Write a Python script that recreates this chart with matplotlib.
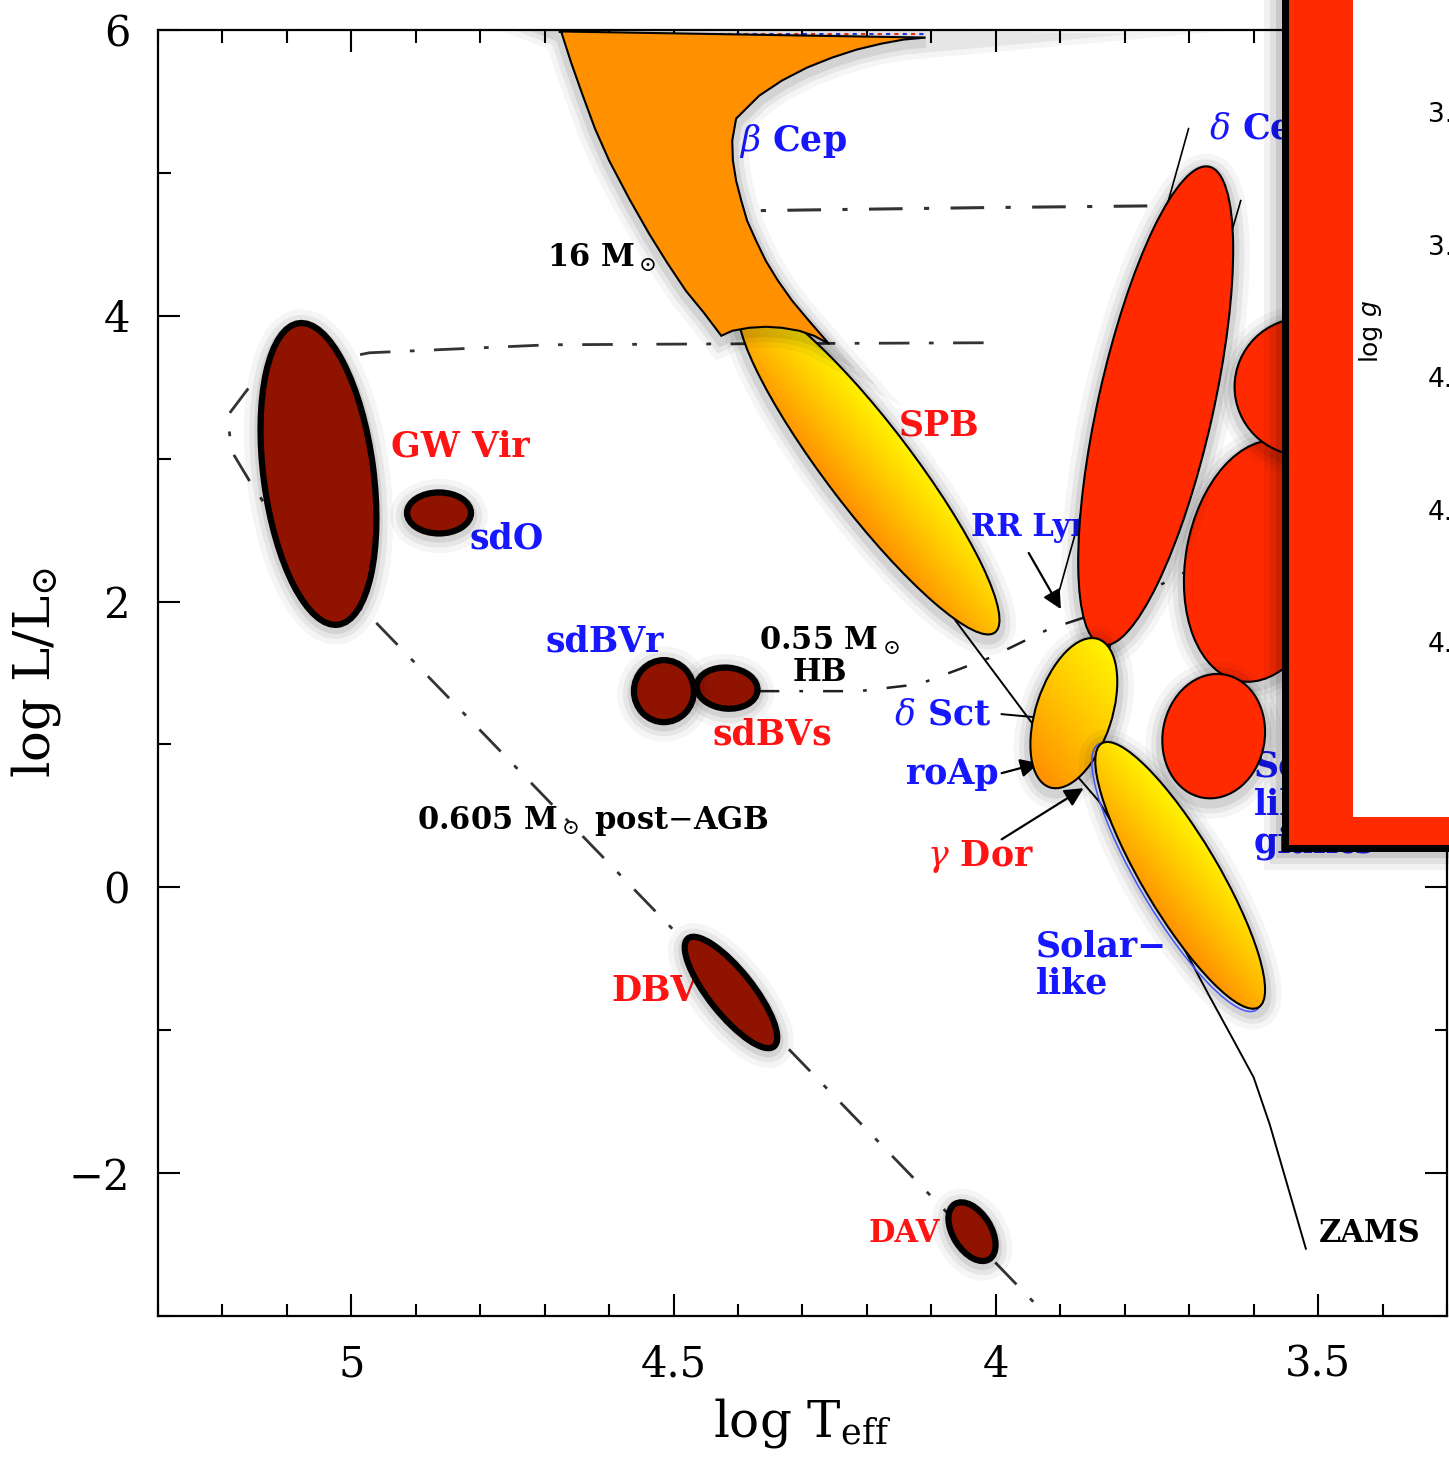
import numpy as np
import matplotlib
matplotlib.use('Agg')
import matplotlib.pyplot as plt
from matplotlib.patches import Ellipse, Polygon, Rectangle
from matplotlib.transforms import ScaledTranslation, offset_copy
from matplotlib.colors import LinearSegmentedColormap
from matplotlib.ticker import MultipleLocator, FuncFormatter

plt.rcParams['font.family'] = ['DejaVu Serif']
plt.rcParams['mathtext.fontset'] = 'dejavuserif'

# ---- values: (log Teff, log L/Lsun) ----
zams_logt = [4.616, 4.492, 4.390, 4.274, 4.150, 4.062, 3.938, 3.840, 3.747, 3.670, 3.630, 3.600, 3.575, 3.519]
zams_logl = [5.997, 4.806, 3.895, 3.194, 2.494, 1.863, 1.114, 0.602, -0.098, -0.750, -1.080, -1.330, -1.660, -2.529]

agb_logt = [4.019, 4.398, 4.693, 4.972, 5.081, 5.158, 5.192, 5.186, 5.158, 5.081, 4.964, 3.927]
agb_logl = [3.811, 3.804, 3.797, 3.741, 3.643, 3.503, 3.300, 3.054, 2.844, 2.319, 1.863, -2.970]

m16_logt = [4.45, 4.367, 4.019, 3.716]
m16_logl = [4.73, 4.736, 4.757, 4.771]

hb_logt = [4.367, 4.212, 4.119, 4.011, 3.918, 3.809, 3.709]
hb_logl = [1.373, 1.373, 1.422, 1.604, 1.807, 1.968, 2.200]

strip_blue_logt = [3.701, 3.906]
strip_blue_logl = [5.310, 2.004]
strip_red_logt = [3.620, 3.825]
strip_red_logl = [4.806, 1.653]

top_track_logt = [4.675, 4.110]
top_track_logl = [5.975, 5.975]

# beta Cep region outline (top edge, right edge, bottom edge, left edge)
bcep_logt = [4.678, 4.109, 4.143, 4.177, 4.216, 4.254, 4.293, 4.332, 4.367, 4.403, 4.409, 4.408,
             4.403, 4.395, 4.386, 4.372, 4.357, 4.338, 4.316, 4.290, 4.259,
             4.282, 4.305, 4.332, 4.357, 4.383, 4.409, 4.426,
             4.453, 4.481, 4.510, 4.538, 4.569, 4.600, 4.622, 4.642, 4.659, 4.674]
bcep_logl = [5.990, 5.947, 5.933, 5.905, 5.863, 5.807, 5.737, 5.646, 5.541, 5.380, 5.226, 5.086,
             4.946, 4.806, 4.666, 4.525, 4.385, 4.245, 4.105, 3.965, 3.804,
             3.860, 3.895, 3.916, 3.923, 3.916, 3.895, 3.860,
             4.021, 4.175, 4.371, 4.574, 4.820, 5.086, 5.310, 5.555, 5.772, 5.983]

# compact pulsators (dark red): GW Vir, sdO, sdBVs, sdBVr, DBV, DAV
dark_logt = [5.051, 4.864, 4.417, 4.515, 4.411, 4.037]
dark_logl = [2.893, 2.620, 1.394, 1.373, -0.736, -2.410]
# red region (red giants / Cepheids)
red_logt = [3.589, 3.521, 3.662, 3.752]
red_logl = [2.284, 3.503, 1.058, 3.370]
# SPB, delta Sct, solar-like (yellow)
yel_logt = [4.197, 3.879, 3.714]
yel_logl = [2.942, 1.219, 0.084]

label_text = [r'$\beta$ Cep', r'$\delta$ Cep', r'16 M$_\odot$', 'GW Vir', 'sdO', 'SPB', 'RR Lyr',
              'sdBVr', r'0.55 M$_\odot$', 'HB', r'$\delta$ Sct', 'sdBVs', 'roAp',
              r'0.605 M$_\odot$ post$-$AGB', r'$\gamma$ Dor', 'Solar\u2212', 'like',
              'Solar\u2212', 'like', 'giants', 'DBV', 'DAV', 'ZAMS']
label_logt = [4.398, 3.670, 4.696, 4.938, 4.817, 4.150, 4.039, 4.698, 4.367, 4.316, 4.158,
              4.440, 4.140, 4.898, 4.107, 3.938, 3.938, 3.600, 3.600, 3.600, 4.597, 4.197, 3.499]
label_logl = [5.226, 5.310, 4.406, 3.082, 2.438, 3.229, 2.515, 1.723, 1.723, 1.506, 1.212,
              1.072, 0.792, 0.462, 0.217, -0.413, -0.673, 0.848, 0.581, 0.310, -0.729, -2.424, -2.424]
label_color = ['b', 'b', 'k', 'r', 'b', 'r', 'b', 'b', 'k', 'k', 'b', 'r', 'b', 'k', 'r',
               'b', 'b', 'b', 'b', 'b', 'r', 'r', 'k']

# arrows: tail -> head
arrow_tail_logt = [3.949, 3.991, 3.991]
arrow_tail_logl = [2.340, 0.799, 0.336]
arrow_head_logt = [3.899, 3.933, 3.864]
arrow_head_logl = [1.947, 0.869, 0.694]

inset_ticks = ['3.6', '3.8', '4.0', '4.2', '4.4']

# ---- styles (ellipse sizes in pixels at 100 dpi: major, minor, angle) ----
dark_shape = [(304, 110, 97.4), (64, 41, 0), (61, 41, -5), (60, 62, 0), (138, 44, -51.5), (65, 38, -58)]
red_shape = [(244, 150, 80), (140, 138, 0), (125, 102, 80), (490, 115, 77.4)]
yel_shape = [(416, 86, -52.7), (156, 76, 72), (307, 76, -59.3)]
colmap = {'b': '#1616ff', 'r': '#ff1414', 'k': 'black'}
label_size = [25, 25, 22, 25, 25, 25, 22, 25, 22, 22, 25, 25, 25, 22, 25, 25, 25, 25, 25, 25, 25, 22, 22]

W, H = 1449, 1459
fig = plt.figure(figsize=(W / 100, H / 100), dpi=100)
ax = fig.add_axes([158 / W, 1 - 1316 / H, (1447 - 158) / W, (1316 - 30) / H])
ax.set_xlim(5.3, 3.3)
ax.set_ylim(-3, 6)
ax.set_autoscale_on(False)


def ellipse_at(t, l, w, h, ang, dx=0, dy=0, **kw):
    tr = fig.dpi_scale_trans + ScaledTranslation(t, l, ax.transData)
    if dx or dy:
        tr = tr + ScaledTranslation(dx / 100, dy / 100, fig.dpi_scale_trans)
    return Ellipse((0, 0), w / 100, h / 100, angle=ang, transform=tr, **kw)


def shadow(make, z):
    for lw, a in [(24, 0.04), (16, 0.06), (9, 0.08)]:
        ax.add_patch(make(facecolor='none', edgecolor='k', lw=lw, alpha=a, zorder=z - 0.02))


# tracks
dashdot = (0, (11, 7, 1.7, 7))
ax.plot(zams_logt, zams_logl, color='k', lw=1.4, zorder=2)
ax.plot(agb_logt, agb_logl, color='#333333', lw=2.0, ls=dashdot, zorder=2)
ax.plot(m16_logt, m16_logl, color='#333333', lw=2.2, ls=dashdot, zorder=2)
ax.plot(hb_logt, hb_logl, color='#222222', lw=1.8, ls=(0, (8, 8, 1.5, 8)), zorder=2)
ax.plot(strip_blue_logt, strip_blue_logl, color='k', lw=1.2, zorder=2)
ax.plot(strip_red_logt, strip_red_logl, color='k', lw=1.2, zorder=2)
ax.plot(top_track_logt, top_track_logl, color='#ff3030', lw=1.5, ls=(0, (2, 6)), zorder=2)
ax.plot(top_track_logt, top_track_logl, color='#3030ff', lw=1.5, ls=(4, (2, 6)), zorder=2)

# arrows and pointer line
for i in range(len(arrow_tail_logt)):
    ax.annotate('', xy=(arrow_head_logt[i], arrow_head_logl[i]),
                xytext=(arrow_tail_logt[i], arrow_tail_logl[i]),
                arrowprops=dict(arrowstyle='-|>', color='k', lw=1.6, mutation_scale=28,
                                shrinkA=0, shrinkB=0), zorder=3)
ax.plot([3.991, 3.940], [1.212, 1.191], color='k', lw=1.4, zorder=3)

# labels
for i in range(len(label_text)):
    ax.text(label_logt[i], label_logl[i], label_text[i], color=colmap[label_color[i]],
            fontsize=label_size[i], fontweight='bold', ha='left', va='center', zorder=3.5)

# gradient filled ellipses (orange lower-left -> yellow upper-right)
cmap = LinearSegmentedColormap.from_list('yo', ['#ff9000', '#ffc400', '#fff400'])
n = 240
yel_z = [4.0, 4.5, 4.6]
for i in range(len(yel_logt)):
    w, h, a = yel_shape[i]
    t, l, z = yel_logt[i], yel_logl[i], yel_z[i]
    shadow(lambda **kw: ellipse_at(t, l, w, h, a, dy=-4, **kw), z)
    if i == 2:
        # faint blue outline of the original strip peeking out
        ax.add_patch(ellipse_at(t, l, w + 2, h, a, dx=-3, dy=-2, facecolor='none',
                                edgecolor='#4455ff', lw=1.1, zorder=z - 0.01))
    p = ellipse_at(t, l, w, h, a, facecolor='none', edgecolor='k', lw=1.5, zorder=z + 0.01)
    ax.add_patch(p)
    vd = p.get_verts()
    x0, x1 = vd[:, 0].min(), vd[:, 0].max()
    y0, y1 = vd[:, 1].min(), vd[:, 1].max()
    proj = vd[:, 0] + 0.8 * vd[:, 1]
    xs = np.linspace(x0, x1, n)[None, :]
    ys = np.linspace(y0, y1, n)[:, None]
    grad = np.clip((xs + 0.8 * ys - proj.min()) / (proj.max() - proj.min()), 0, 1)
    c = ax.transData.inverted().transform([[x0, y0], [x1, y1]])
    im = ax.imshow(grad, cmap=cmap, extent=(c[0, 0], c[1, 0], c[0, 1], c[1, 1]), origin='lower',
                   aspect='auto', interpolation='bilinear', zorder=z)
    im.set_clip_path(p)

# beta Cep region, on top of the SPB ellipse
bcep_xy = np.column_stack([bcep_logt, bcep_logl])
sh_tr = offset_copy(ax.transData, fig, x=0, y=-4, units='dots')
shadow(lambda **kw: Polygon(bcep_xy, closed=True, transform=sh_tr, **kw), 4.05)
ax.add_patch(Polygon(bcep_xy, closed=True, facecolor='#ff9000', edgecolor='k', lw=1.5, zorder=4.05))

# dark compact-star ellipses
dark_z = [4.1, 4.1, 4.1, 4.15, 4.1, 4.1]
for i in range(len(dark_logt)):
    w, h, a = dark_shape[i]
    t, l, z = dark_logt[i], dark_logl[i], dark_z[i]
    shadow(lambda **kw: ellipse_at(t, l, w, h, a, dy=-3, **kw), z)
    ax.add_patch(ellipse_at(t, l, w, h, a, facecolor='#901300', edgecolor='k', lw=4.5, zorder=z))

# red ellipses
red_z = [4.2, 4.25, 4.3, 4.35]
for i in range(len(red_logt)):
    w, h, a = red_shape[i]
    t, l, z = red_logt[i], red_logl[i], red_z[i]
    shadow(lambda **kw: ellipse_at(t, l, w, h, a, dy=-4, **kw), z)
    ax.add_patch(ellipse_at(t, l, w, h, a, facecolor='#ff2a00', edgecolor='k', lw=1.5, zorder=z))

# axes styling
fmt = FuncFormatter(lambda v, pos: f'{v:g}'.replace('-', '\u2212'))
ax.xaxis.set_major_locator(MultipleLocator(0.5))
ax.xaxis.set_minor_locator(MultipleLocator(0.1))
ax.yaxis.set_major_locator(MultipleLocator(2))
ax.yaxis.set_minor_locator(MultipleLocator(1))
ax.xaxis.set_major_formatter(fmt)
ax.yaxis.set_major_formatter(fmt)
ax.tick_params(which='both', direction='in', top=True, right=True, width=1.5, labelsize=30, pad=20)
ax.tick_params(which='major', length=16)
ax.tick_params(which='minor', length=9)
for s in ax.spines.values():
    s.set_linewidth(1.6)
ax.set_xlabel(r'log T$_{\rm eff}$', fontsize=36)
ax.set_ylabel(r'log L/L$_{\odot}$', fontsize=37)
ax.xaxis.set_label_coords(0.5, -0.062)
ax.yaxis.set_label_coords(-0.074, 0.5)

# overlaid inset frame (right)
for d, a in [(18, 0.05), (12, 0.07), (6, 0.10)]:
    fig.add_artist(Rectangle(((1282 - d) / W, 1 - (852 + d) / H), 1, 1, transform=fig.transFigure,
                             facecolor='k', edgecolor='none', alpha=a, zorder=10))
fig.add_artist(Rectangle((1282 / W, 1 - 852 / H), 1, 1, transform=fig.transFigure,
                         facecolor='black', edgecolor='none', zorder=11))
fig.add_artist(Rectangle((1289 / W, 1 - 845 / H), 1, 1, transform=fig.transFigure,
                         facecolor='#ff2a00', edgecolor='none', zorder=12))
fig.add_artist(Rectangle((1353 / W, 1 - 817 / H), 1, 1, transform=fig.transFigure,
                         facecolor='white', edgecolor='none', zorder=13))
fig.text(1369 / W, 1 - 341 / H, 'log', rotation=90, ha='center', va='center', fontsize=18,
         family='DejaVu Sans', zorder=14)
fig.text(1369 / W, 1 - 308 / H, 'g', rotation=90, ha='center', va='center', fontsize=18,
         family='DejaVu Sans', style='italic', zorder=14)
inset_py = [115, 248, 380, 513, 645]
for s, py in zip(inset_ticks, inset_py):
    fig.text(1428 / W, 1 - py / H, s, ha='left', va='center', fontsize=19,
             family='DejaVu Sans', zorder=14)

fig.savefig('out.png', dpi=100)
